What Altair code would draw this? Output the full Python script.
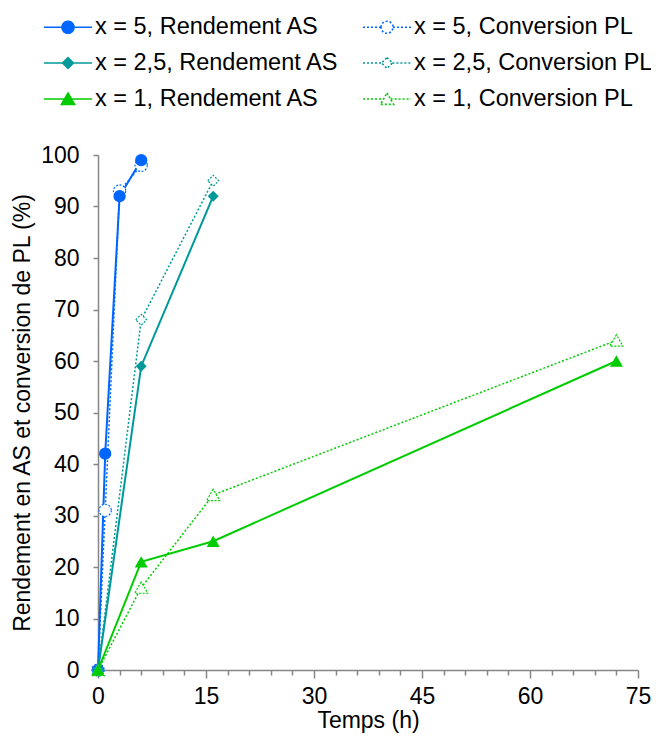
import altair as alt
import pandas as pd

# ---- data ----
groups = ["x = 5", "x = 2,5", "x = 1"]
kinds = ["Rendement AS", "Conversion PL"]

t_x5 = [0, 1, 3, 6]
as_x5 = [0, 42, 92, 99]
pl_x5 = [0, 31, 93, 98]

t_x25 = [0, 6, 16]
as_x25 = [0, 59, 92]
pl_x25 = [0, 68, 95]

t_x1 = [0, 6, 16, 72]
as_x1 = [0, 21, 25, 60]
pl_x1 = [0, 16, 34, 64]

x_major = [0, 15, 30, 45, 60, 75]
x_all_ticks = list(range(0, 76, 3))
y_ticks = list(range(0, 101, 10))

# ---- styles ----
colors = ["#0066FF", "#009999", "#00CC00"]
shapes = ["circle", "diamond", "triangle-up"]
sizes = [150, 120, 170]
FONT = "Liberation Sans"
FS = 23
LEG_FS = 23.5

# legend symbol paths (line + marker), unit = sqrt(size)/2
legend_paths_marker = [
    "M-0.5,0A0.5,0.5,0,1,1,0.5,0A0.5,0.5,0,1,1,-0.5,0Z",
    "M0,-0.45L0.45,0L0,0.45L-0.45,0Z",
    "M0,-0.5L0.55,0.45L-0.55,0.45Z",
]
legend_line_parts = [
    "M-2,0L-0.5,0M0.5,0L2,0",
    "M-2,0L-0.45,0M0.45,0L2,0",
    "M-2,0L-0.3,0M0.3,0L2,0",
]

series_data = {
    ("x = 5", "Rendement AS"): (t_x5, as_x5),
    ("x = 5", "Conversion PL"): (t_x5, pl_x5),
    ("x = 2,5", "Rendement AS"): (t_x25, as_x25),
    ("x = 2,5", "Conversion PL"): (t_x25, pl_x25),
    ("x = 1", "Rendement AS"): (t_x1, as_x1),
    ("x = 1", "Conversion PL"): (t_x1, pl_x1),
}

rows = []
for (g, k), (ts, vs) in series_data.items():
    for t, v in zip(ts, vs):
        rows.append({"group": g, "kind": k, "series": f"{g}, {k}", "t": t, "v": v})
df = pd.DataFrame(rows)

# legend entries are laid out column by column: AS column first, then PL column
series_names = []
leg_paths, leg_stroke, leg_fill, leg_dash = [], [], [], []
for k in kinds:
    for gi, g in enumerate(groups):
        series_names.append(f"{g}, {k}")
        leg_paths.append(legend_line_parts[gi] + legend_paths_marker[gi])
        leg_stroke.append(colors[gi])
        leg_fill.append(colors[gi] if k == "Rendement AS" else "transparent")
        leg_dash.append([1, 0] if k == "Rendement AS" else [2, 2])

X = alt.X(
    "t:Q",
    scale=alt.Scale(domain=[0, 75], nice=False, zero=False),
    axis=alt.Axis(
        values=x_all_ticks,
        tickSize={"condition": {"test": "datum.value % 15 === 0", "value": 8}, "value": 5},
        labelExpr="datum.value % 15 === 0 ? datum.label : ''",
        labelOverlap=False,
        labelFlush=False,
        labelPadding=7,
        titlePadding=1,
        grid=False,
    ),
    title="Temps (h)",
)
Y = alt.Y(
    "v:Q",
    scale=alt.Scale(domain=[0, 100], nice=False),
    axis=alt.Axis(values=y_ticks, tickSize=5, labelPadding=14, titlePadding=6,
                  grid=False, labelFlush=False),
    title="Rendement en AS et conversion de PL (%)",
)

layers = []
for gi, g in enumerate(groups):
    for k in ["Conversion PL", "Rendement AS"]:
        sub = df[(df.group == g) & (df.kind == k)]
        if k == "Rendement AS":
            ln = alt.Chart(sub).mark_line(color=colors[gi], strokeWidth=2)
        else:
            ln = alt.Chart(sub).mark_line(color=colors[gi], strokeWidth=1.5, strokeDash=[2, 2])
        layers.append(ln.encode(x=X, y=Y))
    for k in ["Conversion PL", "Rendement AS"]:
        sub = df[(df.group == g) & (df.kind == k)]
        if k == "Rendement AS":
            pt = alt.Chart(sub).mark_point(shape=shapes[gi], size=sizes[gi], filled=True,
                                           color=colors[gi], opacity=1)
        else:
            pt = alt.Chart(sub).mark_point(shape=shapes[gi], size=sizes[gi], filled=False,
                                           color=colors[gi], fill="white", fillOpacity=1,
                                           strokeWidth=1.2, strokeDash=[2, 1.5], opacity=1)
        layers.append(pt.encode(x=X, y=Y))

# legend-only layer (points lie outside the x domain and are clipped)
leg_df = pd.DataFrame({"series": series_names, "t": [-10] * 6, "v": [50] * 6})
leg = alt.Legend(
    title=None, orient="none", legendX=-43, legendY=-141, columns=2,
    columnPadding=20, rowPadding=11, labelFontSize=LEG_FS, labelFont=FONT,
    labelColor="black", labelOffset=14, labelLimit=500, symbolSize=576,
    symbolStrokeWidth=1.6, padding=0, symbolOpacity=1,
)
legend_layer = alt.Chart(leg_df).mark_point(clip=True, size=576, opacity=1).encode(
    x=X, y=Y,
    shape=alt.Shape("series:N", scale=alt.Scale(domain=series_names, range=leg_paths), legend=leg),
    stroke=alt.Stroke("series:N", scale=alt.Scale(domain=series_names, range=leg_stroke), legend=leg),
    fill=alt.Fill("series:N", scale=alt.Scale(domain=series_names, range=leg_fill), legend=leg),
    strokeDash=alt.StrokeDash("series:N", scale=alt.Scale(domain=series_names, range=leg_dash), legend=leg),
)
layers.append(legend_layer)

chart = (
    alt.layer(*layers)
    .properties(
        width=540, height=515,
        autosize=alt.AutoSizeParams(type="none"),
        padding={"left": 90, "top": 147, "right": 13, "bottom": 64},
        background="white",
    )
    .configure_view(stroke=None)
    .configure_axis(
        labelFont=FONT, titleFont=FONT, labelFontSize=FS, titleFontSize=FS,
        titleFontWeight="normal", labelColor="black", titleColor="black",
        domainColor="#868686", tickColor="#868686", domainWidth=1.5, tickWidth=1.5,
    )
)

chart.save("out.html", embed_options={"renderer": "svg", "actions": False})
